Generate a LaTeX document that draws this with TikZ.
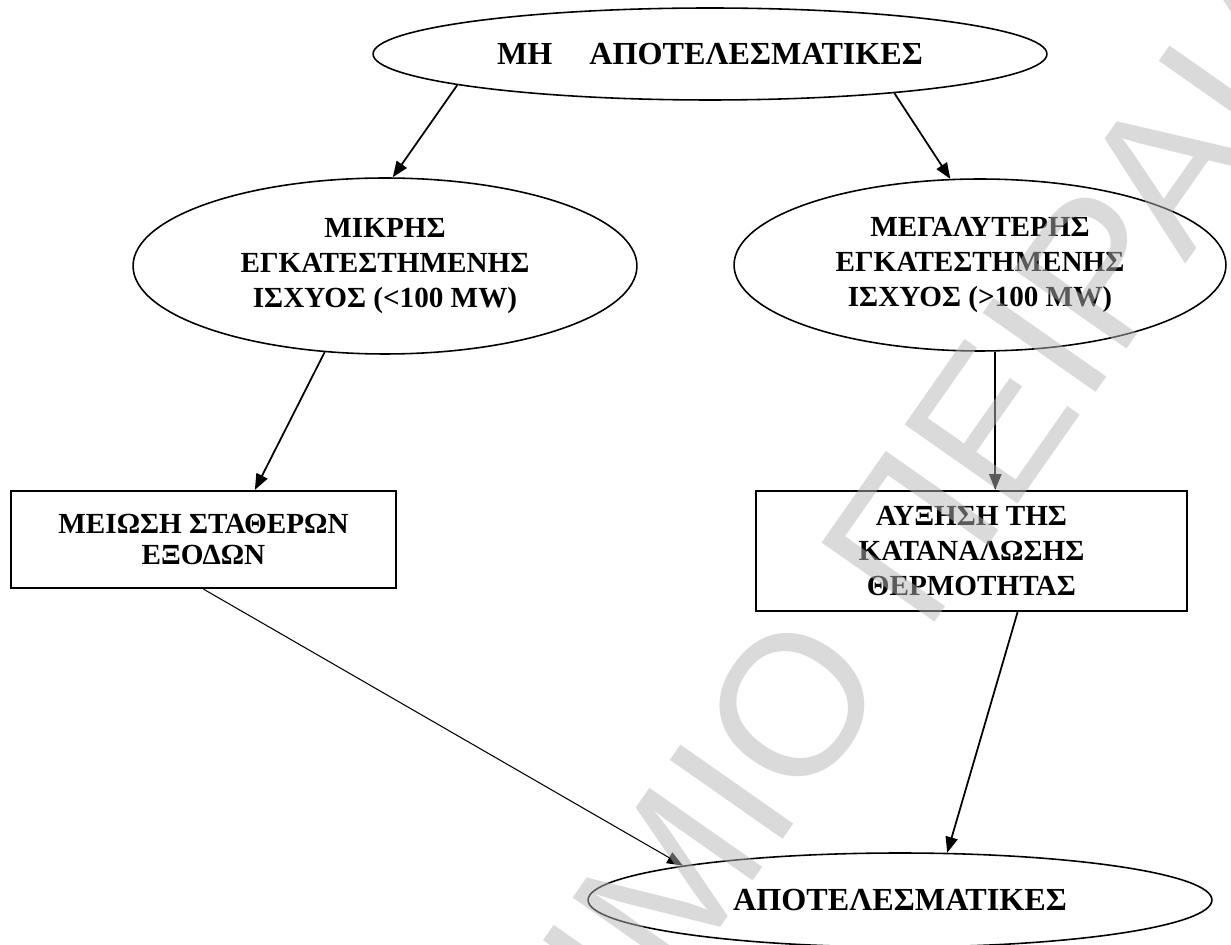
\documentclass[tikz,border=0pt]{standalone}
\usepackage{fontspec}
\setmainfont{Liberation Serif}
\newfontfamily\wmfont{Liberation Sans}
\usetikzlibrary{shapes.geometric,arrows.meta}

\tikzset{
  txtmid/.style={font=\bfseries\fontsize{16.6}{19.9}\selectfont, align=center, inner sep=0pt},
  txtbig/.style={font=\bfseries\fontsize{18.3}{21}\selectfont, align=center, inner sep=0pt},
  oval/.style={draw, ellipse, line width=0.9pt},
  card/.style={draw, rectangle, line width=1.3pt},
  link/.style={line width=1pt, -{Triangle[length=9pt,width=7pt]}},
  thinlink/.style={link, line width=0.6pt},
  stamp/.style={font=\wmfont\fontsize{114}{114}\selectfont, text=black!29, text opacity=0.5, inner sep=0pt}
}

\begin{document}
\begin{tikzpicture}[x=0.02cm, y=-0.02cm]
  \useasboundingbox (0,0) rectangle (1231,945);

  % ellipses
  \node[oval, txtbig, minimum width=13.48cm, minimum height=1.84cm] (top) at (710,54)
    {ΜΗ\hspace{1.15em}ΑΠΟΤΕΛΕΣΜΑΤΙΚΕΣ};
  \node[oval, txtmid, minimum width=10.08cm, minimum height=3.52cm] (small) at (385,266)
    {ΜΙΚΡΗΣ\\ΕΓΚΑΤΕΣΤΗΜΕΝΗΣ\\ΙΣΧΥΟΣ (<100 MW)};
  \node[oval, txtmid, minimum width=9.84cm, minimum height=3.44cm] (large) at (980,265)
    {ΜΕΓΑΛΥΤΕΡΗΣ\\ΕΓΚΑΤΕΣΤΗΜΕΝΗΣ\\ΙΣΧΥΟΣ (>100 MW)};
  \node[oval, txtbig, minimum width=12.48cm, minimum height=1.88cm] (eff) at (900,900)
    {ΑΠΟΤΕΛΕΣΜΑΤΙΚΕΣ};

  % rectangles
  \node[card, txtmid, font=\bfseries\fontsize{16.6}{17.5}\selectfont, minimum width=7.7cm, minimum height=1.94cm] (cost) at (203.5,539.5)
    {ΜΕΙΩΣΗ ΣΤΑΘΕΡΩΝ\\ΕΞΟΔΩΝ};
  \node[card, txtmid, minimum width=8.62cm, minimum height=2.4cm] (heat) at (971.5,551)
    {ΑΥΞΗΣΗ ΤΗΣ\\ΚΑΤΑΝΑΛΩΣΗΣ\\ΘΕΡΜΟΤΗΤΑΣ};

  % connectors
  \draw[link] (top.187) -- (small.85);
  \draw[link] (top.348.7) -- (large.109);
  \draw[link] (small.235) -- (cost.44.4);
  \draw[link] (large.280) -- (large.280 |- heat.north);
  \draw[thinlink] (cost.south) -- (eff.171.1);
  \draw[link] (heat.307.8) -- (eff.45.3);

  % watermark
  \begin{scope}
    \clip (0,0) rectangle (1231,945);
    \node[stamp, rotate=55] (mark) at (638,926) {ΠΑΝΕΠΙΣΤΗΜΙΟ ΠΕΙΡΑΙΑ};
  \end{scope}
\end{tikzpicture}
\end{document}
